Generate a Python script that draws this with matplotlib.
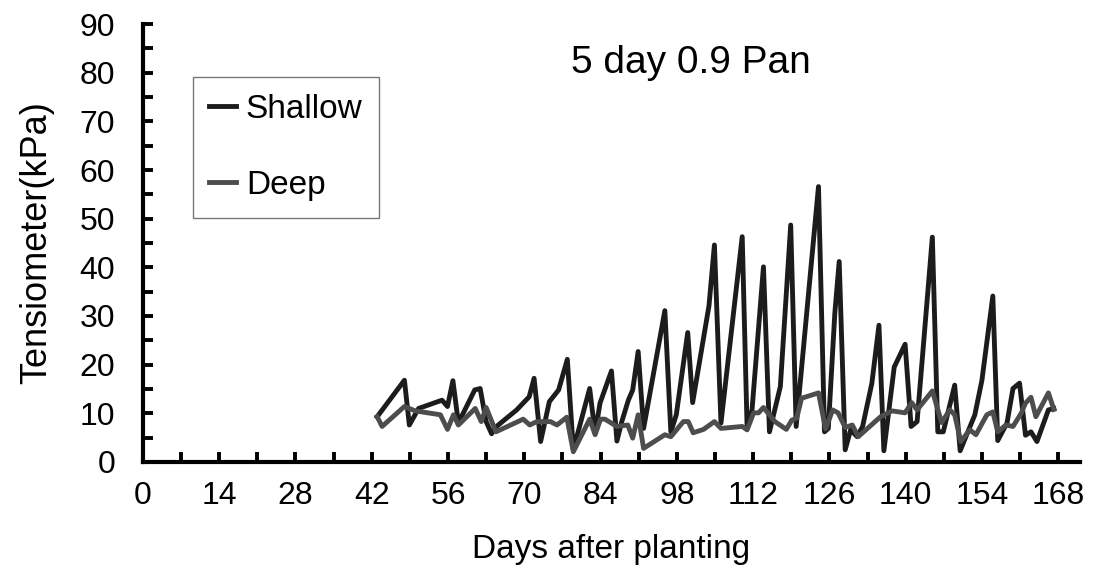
import numpy as np
import matplotlib.pyplot as plt
from matplotlib.ticker import MultipleLocator

plt.rcParams['font.family'] = ['Liberation Sans', 'DejaVu Sans']

# days after planting and tensiometer readings (kPa)
shallow_days = [43.0, 48.0, 48.9, 50.6, 54.9, 55.9, 56.9, 57.9, 60.9, 61.9,
                63.0, 64.0, 64.9, 68.6, 70.9, 71.8, 73.0, 74.6, 76.3, 77.9,
                79.0, 82.0, 83.0, 83.9, 86.0, 87.0, 87.9, 89.1, 89.9, 90.9,
                91.9, 95.8, 96.9, 97.9, 100.0, 100.9, 103.9, 104.9, 106.1, 110.0,
                110.9, 111.8, 113.9, 115.0, 117.0, 118.9, 119.9, 124.0, 125.1, 125.8,
                127.0, 127.8, 128.9, 129.9, 131.1, 132.1, 133.8, 135.1, 136.0, 137.9,
                139.9, 141.0, 142.1, 144.9, 145.9, 146.9, 149.0, 150.0, 152.7, 154.0,
                156.0, 156.9, 158.6, 159.7, 160.9, 162.0, 163.0, 164.1, 166.2, 167.2]
shallow_kpa = [9.3, 16.8, 7.6, 11.0, 12.7, 11.4, 16.7, 8.0, 14.8, 15.1,
               8.3, 5.8, 7.3, 10.7, 13.4, 17.2, 4.2, 12.4, 14.8, 21.1,
               2.5, 15.1, 5.9, 12.1, 18.7, 4.3, 8.3, 12.7, 14.8, 22.7,
               6.9, 31.1, 6.2, 9.7, 26.6, 12.2, 32.1, 44.6, 8.0, 46.3,
               6.9, 10.7, 40.1, 6.2, 15.5, 48.7, 7.3, 56.6, 6.2, 6.9,
               30.6, 41.2, 2.5, 6.6, 5.2, 7.3, 16.2, 28.1, 2.3, 19.5,
               24.2, 7.3, 8.3, 46.2, 6.2, 6.2, 15.8, 2.3, 9.7, 16.8,
               34.1, 4.4, 8.0, 15.1, 16.2, 5.5, 6.2, 4.2, 10.7, 11.0]

deep_days = [43.0, 43.9, 48.0, 50.0, 54.6, 55.9, 57.0, 57.9, 61.0, 62.1,
             63.0, 64.8, 69.8, 71.0, 72.3, 74.8, 76.0, 77.8, 79.0, 82.0,
             83.0, 84.0, 84.8, 87.0, 89.0, 89.9, 90.9, 91.9, 95.8, 96.9,
             99.2, 100.1, 101.0, 102.9, 104.9, 106.1, 110.0, 110.9, 112.1, 113.0,
             113.9, 116.0, 118.1, 119.1, 120.0, 120.9, 124.0, 125.3, 126.6, 127.6,
             128.9, 130.2, 131.3, 135.4, 137.5, 139.9, 141.1, 142.1, 144.9, 146.6,
             148.1, 149.0, 150.1, 151.8, 152.9, 154.9, 156.0, 156.9, 158.4, 159.7,
             161.2, 162.0, 163.0, 163.9, 166.2, 167.2]
deep_kpa = [9.3, 7.3, 11.4, 10.5, 9.7, 6.7, 9.7, 7.6, 11.0, 8.3,
            11.2, 6.2, 8.8, 7.6, 8.3, 8.3, 7.6, 9.2, 2.1, 8.8,
            5.6, 8.8, 8.8, 7.3, 7.6, 4.9, 9.7, 2.8, 5.6, 5.2,
            8.3, 8.3, 6.0, 6.7, 8.3, 6.9, 7.3, 6.6, 10.1, 10.1,
            11.2, 8.3, 6.7, 8.6, 9.0, 13.1, 14.2, 6.8, 10.7, 10.1,
            7.1, 7.6, 5.2, 9.3, 10.5, 10.1, 12.2, 10.7, 14.6, 8.1,
            10.7, 9.7, 4.2, 6.6, 5.6, 9.7, 10.3, 6.2, 7.6, 7.3,
            10.0, 12.1, 13.3, 9.3, 14.2, 10.8]

fig = plt.figure(figsize=(10.96, 5.79), dpi=100)
# axis line runs on past the last labelled tick (168) almost to the edge
ax = fig.add_axes([0.1304, 0.2021, 0.8550, 0.7564])

ax.plot(shallow_days, shallow_kpa, color='#1c1c1c', lw=3.5, label='Shallow')
ax.plot(deep_days, deep_kpa, color='#4d4d4d', lw=3.5, label='Deep')

ax.set_xlim(0, 172)
ax.set_ylim(0, 90)
ax.set_xticks(np.arange(0, 169, 14))
ax.set_xticks(np.arange(7, 169, 7), minor=True)
ax.yaxis.set_major_locator(MultipleLocator(10))
ax.yaxis.set_minor_locator(MultipleLocator(5))
ax.tick_params(which='both', direction='in', width=2.8, length=7, labelsize=23)
ax.tick_params(axis='x', pad=14)
ax.tick_params(axis='y', pad=20)

for side in ['top', 'right']:
    ax.spines[side].set_visible(False)
for side in ['left', 'bottom']:
    ax.spines[side].set_linewidth(3)

ax.set_xlabel('Days after planting', fontsize=24, labelpad=16)
ax.set_ylabel('Tensiometer(kPa)', fontsize=26, labelpad=18)
ax.text(0.585, 0.912, '5 day 0.9 Pan', transform=ax.transAxes, fontsize=28,
        ha='center', va='center')

leg = ax.legend(loc='upper left', bbox_to_anchor=(0.053, 0.878), fontsize=24,
                frameon=True, fancybox=False, edgecolor='#555555',
                handlelength=0.8, handletextpad=0.3, labelspacing=1.35,
                borderpad=0.5, borderaxespad=0)
leg.get_frame().set_linewidth(1.0)

fig.savefig('out.png', dpi=100)
